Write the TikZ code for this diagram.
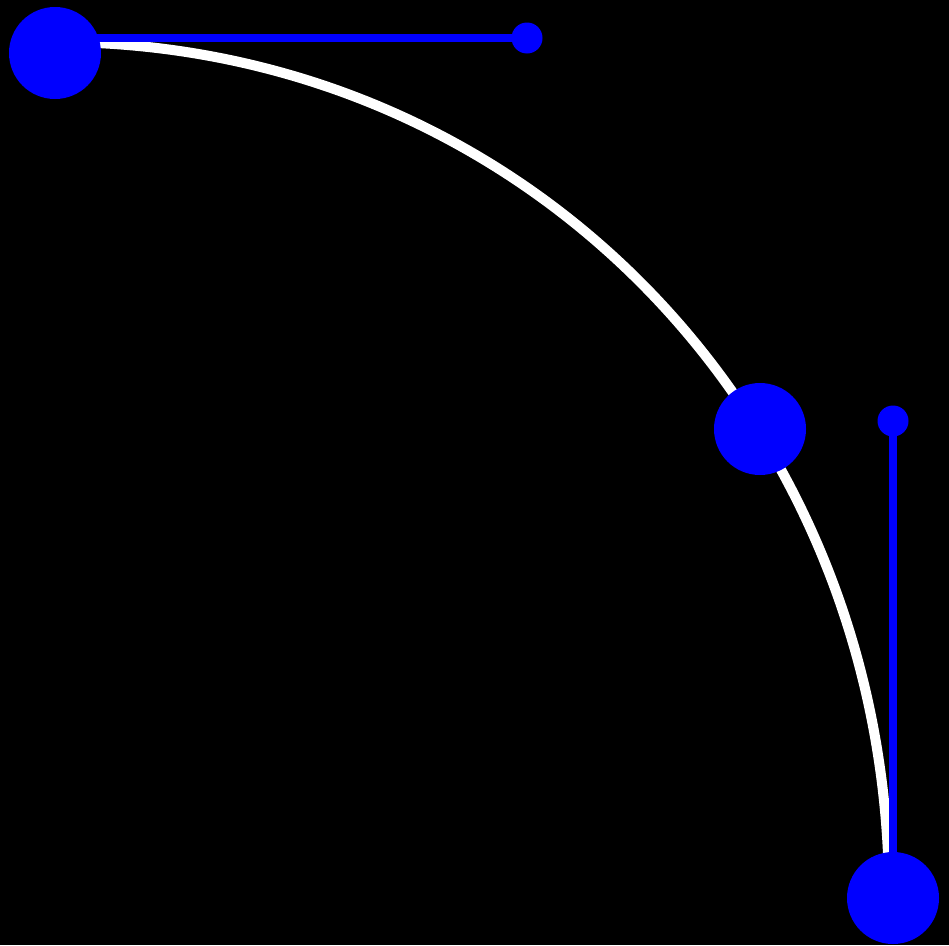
\documentclass[tikz,border=0pt]{standalone}
\usepackage{tikz}
\tikzset{
  bezcurve/.style={draw=white,line width=10pt},
  bezhandle/.style={draw=blue,line width=8.5pt},
  anchordot/.style={circle,fill=blue,inner sep=0pt,minimum size=92pt},
  ctrldot/.style={circle,fill=blue,inner sep=0pt,minimum size=31pt}
}
\begin{document}
\begin{tikzpicture}[x=1pt,y=-1pt]
  \fill[black] (0,0) rectangle (949,945);
  \useasboundingbox (0,0) rectangle (949,945);
  \coordinate (s0) at (55,42);
  \coordinate (h0) at (55,38);
  \coordinate (s3) at (889,897);
  \coordinate (h3) at (893,897);
  \coordinate (c1) at (527,38);
  \coordinate (c2) at (893,421);
  \draw[bezcurve] (s0) .. controls (527,42) and (889,421) .. (s3);
  \draw[bezhandle] (h0) -- (c1);
  \draw[bezhandle] (h3) -- (c2);
  \node[ctrldot] (k1) at (c1) {};
  \node[ctrldot] (k2) at (c2) {};
  \node[anchordot] (p0) at (55,53) {};
  \node[anchordot] (p3) at (893,898) {};
  \node[anchordot] (mid) at (760,429) {};
\end{tikzpicture}
\end{document}
